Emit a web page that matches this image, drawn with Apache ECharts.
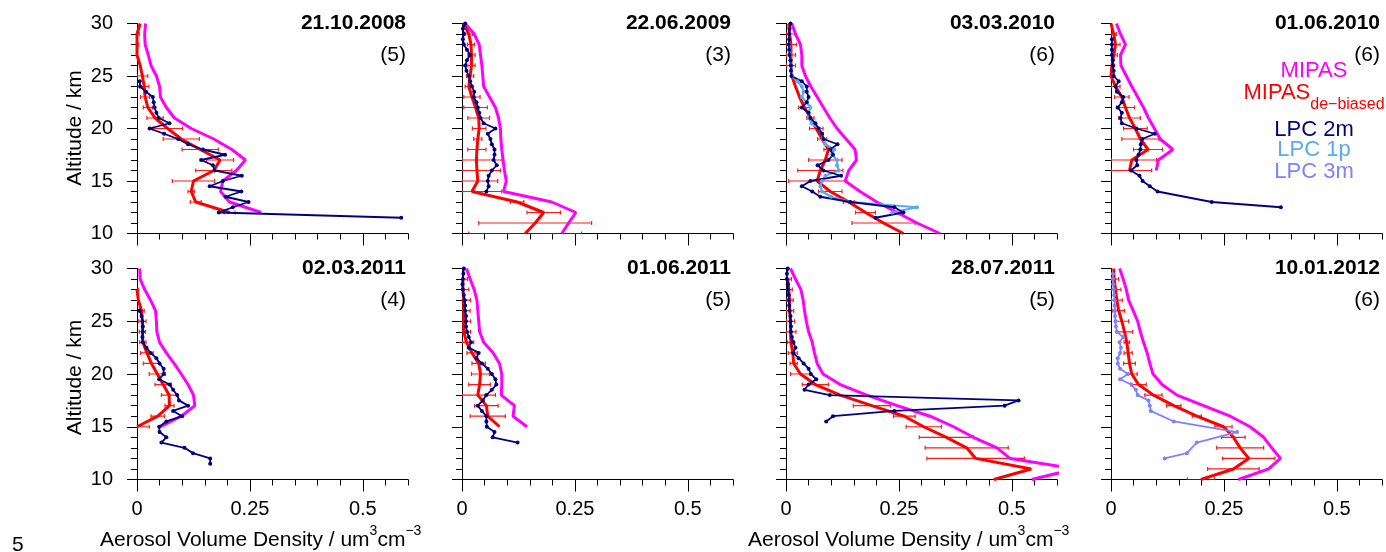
<!DOCTYPE html>
<html><head><meta charset="utf-8">
<script src="https://cdn.jsdelivr.net/npm/echarts@6/dist/echarts.min.js"></script>
<style>html,body{margin:0;padding:0;background:#fff}#c{width:1386px;height:552px}</style>
</head><body><div id="c"></div><script>
// ---------- data ----------
const ALT_1KM = [30,29,28,27,26,25,24,23,22,21,20,19,18,17,16,15,14,13,12,11,10];
const ALT_HALF = [30,29.5,29,28.5,28,27.5,27,26.5,26,25.5,25,24.5,24,23.5,23,22.5,22,21.5,21,20.5,20,19.5,19,18.5,18,17.5,17,16.5,16,15.5,15,14.5,14,13.5,13,12.5,12,11.5,11,10.5,10];
const X_TICKS = [0, 0.25, 0.5];
const Y_TICKS = [10, 15, 20, 25, 30];
const TITLES = ['21.10.2008','22.06.2009','03.03.2010','01.06.2010','02.03.2011','01.06.2011','28.07.2011','10.01.2012'];
const COUNTS = ['(5)','(3)','(6)','(6)','(4)','(5)','(5)','(6)'];
const LEGEND_NAMES = ['MIPAS','MIPAS','de\u2212biased','LPC 2m','LPC 1p','LPC 3m'];
const X_TITLE_PARTS = ['Aerosol Volume Density / um','3','cm','\u22123'];
const Y_TITLE = 'Altitude / km';

// Panel 1: 21.10.2008
const P1_MIPAS = [0.019,0.017,0.018,0.025,0.031,0.043,0.050,0.052,0.065,0.083,0.120,0.170,0.210,0.240,0.220,0.190,0.185,0.205,0.275,null,null];
const P1_RED   = [0.007,0.000,0.000,0.000,0.007,0.012,0.016,0.018,0.024,0.040,0.068,0.098,0.140,0.184,0.170,0.125,0.120,0.130,0.205,null,null];
const P1_ERR   = [null,0.005,0.004,null,null,0.012,0.010,0.010,0.010,0.018,0.033,0.040,0.040,0.030,0.040,0.047,0.007,0.012,0.012,null,null];
const P1_LPC2M = [null,null,null,null,null,null,null,null,null,null,null,
  0.006,0.007,0.020,0.035,0.037,0.039,0.043,0.048,0.072,0.028,0.060,0.091,0.113,0.146,0.195,0.142,0.168,0.172,0.232,0.190,0.161,0.231,0.196,0.247,0.212,0.181,0.585,
  null,null,null];
// Panel 2: 22.06.2009
const P2_MIPAS = [0.007,0.027,0.038,0.041,0.044,0.046,0.048,0.061,0.074,0.081,0.085,0.086,0.088,0.091,0.094,0.098,0.092,0.199,0.252,0.236,0.221];
const P2_RED   = [0.004,0.015,0.020,0.021,0.021,0.018,0.015,0.022,0.030,0.037,0.038,0.035,0.033,0.032,0.033,0.035,0.022,0.122,0.181,0.162,0.140];
const P2_ERR   = [null,0.008,0.008,0.008,0.008,0.008,0.008,0.018,0.026,0.024,0.015,0.009,0.020,0.057,0.052,0.044,0.066,0.015,0.037,0.125,0.125];
const P2_LPC2M = [0.007,0.002,0.004,0.002,0.004,0.011,0.018,0.011,0.007,0.010,0.015,0.018,0.022,0.027,0.026,0.032,0.035,0.038,0.041,0.048,0.074,0.057,0.063,0.066,0.072,0.072,0.070,0.077,0.066,0.059,0.057,0.059,0.054,
  null,null,null,null,null,null,null,null];
// Panel 3: 03.03.2010
const P3_MIPAS = [0.013,0.021,0.032,0.035,0.035,0.043,0.055,0.069,0.083,0.097,0.113,0.133,0.153,0.156,0.139,0.131,0.164,0.201,0.246,0.290,0.341];
const P3_RED   = [0.006,0.008,0.011,0.011,0.011,0.013,0.021,0.030,0.041,0.054,0.067,0.080,0.094,0.087,0.076,0.069,0.098,0.139,0.176,0.216,0.260];
const P3_ERR   = [null,0.012,0.012,0.010,0.010,null,null,null,0.013,0.008,0.015,0.010,0.010,0.037,0.050,0.063,0.026,0.012,0.022,0.070,null];
const P3_LPC2M = [0.010,0.008,0.007,0.007,0.006,0.007,0.008,0.010,0.011,0.011,0.012,0.035,0.046,0.046,0.050,0.046,0.035,0.050,0.054,0.065,0.072,0.080,0.083,0.114,0.098,0.104,0.094,0.070,0.083,0.122,0.054,0.035,0.058,0.076,0.142,0.240,0.260,0.198,
  null,null,null];
const P3_LPC1P = [null,null,null,null,
  0.007,0.008,0.009,0.010,0.011,0.012,0.013,0.025,0.035,0.039,0.035,0.045,0.054,0.050,0.050,0.057,0.074,0.080,0.082,0.087,0.107,0.102,0.113,0.113,0.117,0.087,0.080,0.076,0.080,0.100,0.142,0.290,0.235,
  null,null,null,null];
// Panel 4: 01.06.2010
const P4_MIPAS = [0.012,0.021,0.032,0.021,0.022,0.034,0.046,0.059,0.072,0.083,0.096,0.109,0.137,0.105,0.100,null,null,null,null,null,null];
const P4_RED   = [0.000,0.006,0.010,0.006,0.002,0.000,0.010,0.024,0.032,0.041,0.054,0.065,0.082,0.046,0.041,null,null,null,null,null,null];
const P4_ERR   = [null,0.006,0.010,0.008,0.006,null,0.010,0.016,0.020,0.024,0.026,0.041,0.032,0.055,0.049,null,null,null,null,null,null];
const P4_LPC2M = [null,null,null,
  0.002,0.002,0.002,0.002,0.004,0.004,0.006,0.006,0.017,0.010,0.013,0.027,0.024,0.015,0.024,0.021,0.024,0.056,0.097,0.069,0.066,0.065,0.061,0.056,0.058,0.044,0.063,0.070,0.086,0.103,null,0.223,0.376,
  null,null,null,null,null];
// Panel 5: 02.03.2011
const P5_MIPAS = [0.006,0.007,0.017,0.030,0.041,0.043,0.044,0.050,0.065,0.082,0.098,0.113,0.125,0.128,0.098,0.052,null,null,null,null,null];
const P5_RED   = [null,null,0.000,0.003,0.010,0.012,0.012,0.013,0.022,0.032,0.045,0.058,0.071,0.072,0.046,0.000,null,null,null,null,null];
const P5_ERR   = [null,null,0.004,null,0.006,0.008,0.007,0.007,0.014,0.018,0.018,0.018,0.017,0.010,0.015,0.027,null,null,null,null,null];
const P5_LPC2M = [null,null,null,null,null,null,null,null,
  0.006,0.010,0.012,0.013,0.013,0.012,0.013,0.021,0.030,0.043,0.050,0.059,0.059,0.049,0.072,0.080,0.089,0.093,0.113,0.080,0.100,0.065,0.049,0.050,0.065,0.054,0.105,0.124,0.162,0.162,
  null,null,null];
// Panel 6: 01.06.2011
const P6_MIPAS = [0.010,0.018,0.027,0.033,0.035,0.037,0.039,0.048,0.069,0.083,0.088,0.088,0.087,0.116,0.113,0.144,null,null,null,null,null];
const P6_RED   = [null,0.002,0.002,0.004,0.004,0.004,0.004,0.010,0.022,0.037,0.041,0.039,0.035,0.054,0.057,0.083,null,null,null,null,null];
const P6_ERR   = [null,0.010,0.013,0.015,0.014,0.015,0.015,0.016,0.011,0.015,0.020,0.024,0.039,0.026,0.039,null,null,null,null,null,null];
const P6_LPC2M = [0.004,0.003,0.002,0.001,0.002,0.004,0.006,0.007,0.007,0.009,0.009,0.009,0.011,0.015,0.020,0.015,0.037,0.032,0.044,0.057,0.066,0.074,0.076,0.066,0.054,0.046,0.035,0.044,0.054,0.054,0.055,0.072,0.068,0.123,
  null,null,null,null,null,null,null];
// Panel 7: 28.07.2011
const P7_MIPAS = [0.010,0.021,0.033,0.038,0.041,0.045,0.050,0.058,0.063,0.069,0.082,0.120,0.179,0.246,0.319,0.371,0.415,0.467,0.496,0.640,0.544];
const P7_RED   = [null,0.004,0.006,0.008,0.008,0.010,0.010,0.011,0.015,0.017,0.032,0.065,0.120,0.190,0.262,0.305,0.355,0.400,0.420,0.543,0.460];
const P7_ERR   = [null,0.008,0.008,0.008,0.009,0.009,0.012,0.008,0.010,0.008,0.022,0.029,null,0.041,0.024,0.039,0.060,0.092,0.108,null,null];
const P7_LPC2M = [0.004,0.002,0.002,0.004,0.004,0.006,0.006,0.007,0.008,0.010,0.010,0.011,0.011,0.013,0.016,0.021,0.016,0.028,0.039,0.050,0.055,0.067,0.050,0.041,0.097,0.515,0.484,0.240,0.104,0.089,
  null,null,null,null,null,null,null,null,null,null,null];
// Panel 8: 10.01.2012
const P8_MIPAS = [0.019,0.027,0.034,0.039,0.049,0.059,0.065,0.072,0.080,0.086,0.093,0.113,0.146,0.205,0.264,0.308,0.338,0.356,0.375,0.349,0.282];
const P8_RED   = [0.006,0.007,0.010,0.013,0.017,0.024,0.030,0.035,0.038,0.041,0.046,0.061,0.094,0.139,0.190,0.249,0.271,0.286,0.305,0.271,0.199];
const P8_ERR   = [null,0.010,0.012,0.012,0.013,0.015,0.018,0.006,0.009,0.013,0.012,0.017,0.019,0.016,0.010,0.019,0.026,0.052,0.058,0.057,0.030];
const P8_LPC3M = [null,
  0.004,0.004,0.005,0.006,0.007,0.008,0.008,0.009,0.009,0.010,0.011,0.013,0.027,0.019,0.022,0.020,0.015,0.015,0.020,0.038,0.020,0.045,0.055,0.059,0.083,0.086,0.088,null,0.139,null,0.279,null,0.190,null,0.168,0.119,
  null,null,null,null];

// ---------- styling ----------
const FONT = "'Liberation Sans', Arial, Helvetica, sans-serif";
const C_MIPAS = '#ff00ff', C_RED = '#ff0000', C_2M = '#000080', C_1P = '#5aaaf0', C_3M = '#8080ff';
const LEFTS = [137, 462, 786, 1111];
const TOPS = [23.5, 268.5];
const HEIGHTS = [210, 211];
const GW = 271;

const PANELS = [
  {mipas:P1_MIPAS, red:P1_RED, err:P1_ERR, lpc:[[P1_LPC2M, C_2M, 1.8]]},
  {mipas:P2_MIPAS, red:P2_RED, err:P2_ERR, lpc:[[P2_LPC2M, C_2M, 1.8]]},
  {mipas:P3_MIPAS, red:P3_RED, err:P3_ERR, lpc:[[P3_LPC1P, C_1P, 2.2], [P3_LPC2M, C_2M, 1.8]]},
  {mipas:P4_MIPAS, red:P4_RED, err:P4_ERR, lpc:[[P4_LPC2M, C_2M, 1.8]]},
  {mipas:P5_MIPAS, red:P5_RED, err:P5_ERR, lpc:[[P5_LPC2M, C_2M, 1.8]]},
  {mipas:P6_MIPAS, red:P6_RED, err:P6_ERR, lpc:[[P6_LPC2M, C_2M, 1.8]]},
  {mipas:P7_MIPAS, red:P7_RED, err:P7_ERR, lpc:[[P7_LPC2M, C_2M, 1.8]]},
  {mipas:P8_MIPAS, red:P8_RED, err:P8_ERR, lpc:[[P8_LPC3M, C_3M, 1.8]]}
];

function pairs(vals, alts) {
  const out = [];
  vals.forEach((v, i) => { if (v !== null && v !== undefined) out.push([v, alts[i]]); });
  return out;
}

function renderErr(params, api) {
  const v = api.value(0), a = api.value(1), e = api.value(2);
  const lo = Math.max(0, v - e), hi = v + e;
  const p1 = api.coord([lo, a]), p2 = api.coord([hi, a]);
  const st = {stroke: '#ff1a1a', lineWidth: 1.2};
  return {type: 'group', children: [
    {type: 'line', shape: {x1: p1[0], y1: p1[1], x2: p2[0], y2: p2[1]}, style: st},
    {type: 'line', shape: {x1: p1[0], y1: p1[1] - 2, x2: p1[0], y2: p1[1] + 2}, style: st},
    {type: 'line', shape: {x1: p2[0], y1: p2[1] - 2, x2: p2[0], y2: p2[1] + 2}, style: st}
  ]};
}

const grids = [], xAxes = [], yAxes = [], series = [], graphics = [];
const axisLineStyle = {color: '#000', width: 1};

PANELS.forEach((p, i) => {
  const col = i % 4, row = Math.floor(i / 4);
  const left = LEFTS[col], top = TOPS[row], h = HEIGHTS[row];
  grids.push({left: left, top: top, width: GW, height: h, outerBoundsMode: 'none', containLabel: false});
  xAxes.push({
    gridIndex: i, type: 'value', min: 0, max: 0.6, interval: 0.05, position: 'bottom',
    axisLine: {show: true, onZero: false, lineStyle: axisLineStyle},
    axisTick: {show: true, inside: false, length: 6, lineStyle: axisLineStyle},
    splitLine: {show: false},
    axisLabel: {show: row === 1, customValues: X_TICKS, margin: 20, fontSize: 20, color: '#000', fontFamily: FONT,
      formatter: v => String(v)}
  });
  xAxes.push({
    gridIndex: i, type: 'value', min: 0, max: 0.6, position: 'bottom',
    axisLine: {show: false},
    axisTick: {show: true, inside: false, length: 12, customValues: X_TICKS, lineStyle: axisLineStyle},
    splitLine: {show: false},
    axisLabel: {show: false}
  });
  yAxes.push({
    gridIndex: i, type: 'value', min: Y_TICKS[0], max: Y_TICKS[Y_TICKS.length - 1], interval: 5, position: 'left',
    axisLine: {show: true, onZero: false, lineStyle: axisLineStyle},
    axisTick: {show: true, inside: false, length: 10, lineStyle: axisLineStyle},
    minorTick: {show: true, splitNumber: 5, length: 6, lineStyle: axisLineStyle},
    splitLine: {show: false}, minorSplitLine: {show: false},
    axisLabel: {show: col === 0, margin: 24, fontSize: 20, color: '#000', fontFamily: FONT}
  });
  const xi = 2 * i;
  const errData = [];
  ALT_1KM.forEach((a, k) => {
    if (p.red[k] !== null && p.err[k] !== null) errData.push([p.red[k], a, p.err[k]]);
  });
  series.push({type: 'custom', xAxisIndex: xi, yAxisIndex: i, renderItem: renderErr, data: errData,
    encode: {x: 0, y: 1}, clip: true, silent: true, z: 2});
  series.push({type: 'line', xAxisIndex: xi, yAxisIndex: i, data: pairs(p.mipas, ALT_1KM),
    showSymbol: false, symbol: 'none', lineStyle: {color: C_MIPAS, width: 3}, itemStyle: {color: C_MIPAS}, clip: true, z: 3});
  series.push({type: 'line', xAxisIndex: xi, yAxisIndex: i, data: pairs(p.red, ALT_1KM),
    showSymbol: false, symbol: 'none', lineStyle: {color: C_RED, width: 3}, itemStyle: {color: C_RED}, clip: true, z: 4});
  p.lpc.forEach(([vals, color, w]) => {
    series.push({type: 'line', xAxisIndex: xi, yAxisIndex: i, data: pairs(vals, ALT_HALF),
      showSymbol: true, symbol: 'circle', symbolSize: 4,
      lineStyle: {color: color, width: w}, itemStyle: {color: color}, clip: true, z: 5});
  });
  const right = left + GW - 2;
  graphics.push({type: 'text', x: right, y: top, silent: true,
    style: {text: TITLES[i], fill: '#000', fontSize: 21, fontWeight: 'bold', fontFamily: FONT,
      align: 'right', textAlign: 'right', verticalAlign: 'middle', textVerticalAlign: 'middle'}});
  graphics.push({type: 'text', x: right, y: top + 32, silent: true,
    style: {text: COUNTS[i], fill: '#000', fontSize: 21, fontFamily: FONT,
      align: 'right', textAlign: 'right', verticalAlign: 'middle', textVerticalAlign: 'middle'}});
});

[128, 377.5].forEach(yc => {
  graphics.push({type: 'text', x: 75, y: yc, rotation: Math.PI / 2, silent: true,
    style: {text: Y_TITLE, fill: '#000', fontSize: 21, fontFamily: FONT,
      align: 'center', textAlign: 'center', verticalAlign: 'middle', textVerticalAlign: 'middle'}});
});

const mctx = document.createElement('canvas').getContext('2d');
function tw(text, size, weight) {
  mctx.font = (weight || 'normal') + ' ' + size + 'px ' + FONT;
  return mctx.measureText(text).width;
}
function txt(text, x, y, size, color, align) {
  return {type: 'text', x: x, y: y, silent: true,
    style: {text: text, fill: color, fontSize: size, fontFamily: FONT,
      align: align || 'left', textAlign: align || 'left', verticalAlign: 'middle', textVerticalAlign: 'middle'}};
}

[100, 748].forEach(x0 => {
  let x = x0;
  graphics.push(txt(X_TITLE_PARTS[0], x, 540, 21, '#000')); x += tw(X_TITLE_PARTS[0], 21);
  graphics.push(txt(X_TITLE_PARTS[1], x, 531, 14, '#000')); x += tw(X_TITLE_PARTS[1], 14);
  graphics.push(txt(X_TITLE_PARTS[2], x, 540, 21, '#000')); x += tw(X_TITLE_PARTS[2], 21);
  graphics.push(txt(X_TITLE_PARTS[3], x, 531, 14, '#000'));
});

graphics.push(txt('5', 12, 545, 21, '#000'));

const LX = 1314;
graphics.push(txt(LEGEND_NAMES[0], LX, 71, 22, C_MIPAS, 'center'));
(function () {
  const wa = tw(LEGEND_NAMES[1], 22), wb = tw(LEGEND_NAMES[2], 16);
  const x0 = LX - (wa + wb) / 2;
  graphics.push(txt(LEGEND_NAMES[1], x0, 93, 22, C_RED));
  graphics.push(txt(LEGEND_NAMES[2], x0 + wa, 105, 16, C_RED));
})();
graphics.push(txt(LEGEND_NAMES[3], LX, 130, 22, C_2M, 'center'));
graphics.push(txt(LEGEND_NAMES[4], LX, 150, 22, C_1P, 'center'));
graphics.push(txt(LEGEND_NAMES[5], LX, 172, 22, C_3M, 'center'));

const chart = echarts.init(document.getElementById('c'), null, {renderer: 'canvas', width: 1386, height: 552});
chart.setOption({
  animation: false,
  backgroundColor: '#fff',
  grid: grids, xAxis: xAxes, yAxis: yAxes, series: series, graphic: graphics,
  tooltip: {show: false}
});
</script></body></html>
